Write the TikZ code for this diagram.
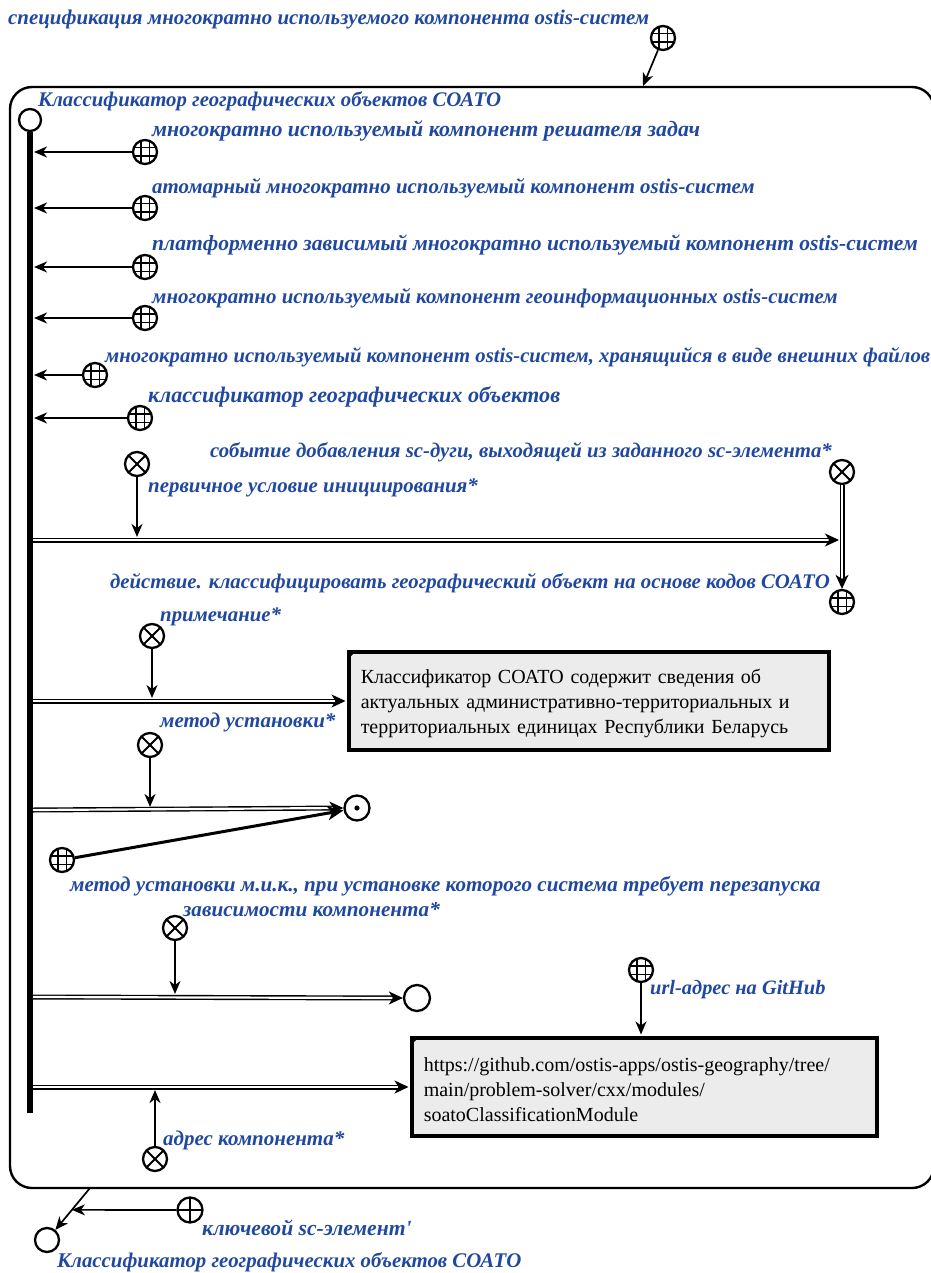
\documentclass[tikz,border=0pt]{standalone}
\usepackage{fontspec}
\setmainfont{Liberation Serif}
\usetikzlibrary{arrows.meta,calc}
\definecolor{labblue}{RGB}{32,72,160}
\definecolor{boxgray}{RGB}{236,236,236}
\tikzset{
  lab/.style={font=\bfseries\itshape\fontsize{#1}{24}\selectfont, text=labblue, inner sep=0pt},
  lab/.default=21,
  ring/.style={circle, draw, line width=2.3pt, fill=white, inner sep=0pt, minimum size=#1},
  globe/.style={ring=24pt, path picture={
      \foreach \d in {-4.2,4.2}{
        \draw[black, line width=1.4pt] ($(path picture bounding box.center)+(\d pt,-14pt)$) -- ++(0pt,28pt);
        \draw[black, line width=1.4pt] ($(path picture bounding box.center)+(-14pt,\d pt)$) -- ++(28pt,0pt);
      }}},
  xnode/.style={ring=24pt, path picture={
      \draw[black, line width=2pt] ($(path picture bounding box.center)+(-12pt,-12pt)$) -- ++(24pt,24pt);
      \draw[black, line width=2pt] ($(path picture bounding box.center)+(-12pt,12pt)$) -- ++(24pt,-24pt);
      }},
  pnode/.style={ring=25pt, path picture={
      \draw[black, line width=2pt] ($(path picture bounding box.center)+(-14pt,0pt)$) -- ++(28pt,0pt);
      \draw[black, line width=2pt] ($(path picture bounding box.center)+(0pt,-14pt)$) -- ++(0pt,28pt);
      }},
  dotnode/.style={ring=25pt, path picture={
      \fill[black] (path picture bounding box.center) circle[radius=2.6pt];
      }},
  frame/.style={line width=2.4pt, rounded corners=22pt},
  bar/.style={line width=6.5pt},
  arr/.style={line width=1.7pt, -{Stealth[length=13pt,width=11pt,inset=4pt]}},
  thickarr/.style={line width=3pt, -{Stealth[length=16pt,width=14pt,inset=4.5pt]}},
  dblline/.style={double=white, double distance=2.2pt, line width=1.4pt},
  dbltip/.style={line width=1.4pt, -{Stealth[length=14pt,width=13pt,inset=4pt]}},
  notebox/.style={draw, line width=3.5pt, fill=boxgray, text width=#1, align=left,
      inner xsep=12pt, minimum height=98pt, font=\fontsize{20}{25}\selectfont},
}
\newcommand\scDblArc[2]{%
  \draw[dblline] (#1) -- ($(#2)!10pt!(#1)$);
  \draw[dbltip] ($(#2)!10pt!(#1)$) -- (#2);}
\begin{document}
\begin{tikzpicture}[x=1pt,y=-1pt]
\useasboundingbox (0,0) rectangle (930,1273);
\draw[frame] (10,87) rectangle (934,1188);

% specification
\node[lab=20.9, anchor=west] (tspec) at (8,20) {спецификация многократно используемого компонента ostis-систем};
\node[globe] (gspec) at (663,38) {};
\coordinate (fspec) at (643,86);
\draw[arr] (gspec) -- (fspec);

% main node and bar
\node[ring=22pt] (main) at (30,120) {};
\node[lab=20.8, anchor=west] (tmain) at (38,101) {Классификатор географических объектов СОАТО};
\coordinate (barend) at (30,1113);
\draw[bar] (main.south) -- (barend);

% classes
\node[globe] (g1) at (145,152) {};
\coordinate (b1) at (34,152);
\draw[arr] (g1) -- (b1);
\node[lab=21.9, anchor=west] (t1) at (152,131) {многократно используемый компонент решателя задач};

\node[globe] (g2) at (145,208) {};
\coordinate (b2) at (34,208);
\draw[arr] (g2) -- (b2);
\node[lab=20.9, anchor=west] (t2) at (152,188) {атомарный многократно используемый компонент ostis-систем};

\node[globe] (g3) at (145,267) {};
\coordinate (b3) at (34,267);
\draw[arr] (g3) -- (b3);
\node[lab=21.6, anchor=west] (t3) at (152,245) {платформенно зависимый многократно используемый компонент ostis-систем};

\node[globe] (g4) at (145,318) {};
\coordinate (b4) at (34,318);
\draw[arr] (g4) -- (b4);
\node[lab=20.9, anchor=west] (t4) at (152,298) {многократно используемый компонент геоинформационных ostis-систем};

\node[globe] (g5) at (95,375) {};
\coordinate (b5) at (34,375);
\draw[arr] (g5) -- (b5);
\node[lab=20.7, anchor=west] (t5) at (105,357) {многократно используемый компонент ostis-систем, хранящийся в виде внешних файлов};

\node[globe] (g6) at (140,418) {};
\coordinate (b6) at (34,418);
\draw[arr] (g6) -- (b6);
\node[lab=22.2, anchor=west] (t6) at (148,397) {классификатор географических объектов};

% event
\node[xnode] (x1) at (137,464) {};
\node[lab=20.9, anchor=west] (tprim) at (148,488) {первичное условие инициирования*};
\coordinate (d1s) at (33,540);
\coordinate (d1e) at (839,540);
\scDblArc{d1s}{d1e}
\coordinate (x1e) at (137,537);
\draw[arr] (x1) -- (x1e);
\node[xnode] (x2) at (842,472) {};
\node[lab=20.8, anchor=east] (tev) at (832,452) {событие добавления sc-дуги, выходящей из заданного sc-элемента*};
\node[globe] (gact) at (842,602) {};
\scDblArc{x2.south}{gact.north}
\node[lab=20.8, anchor=east] (tact) at (830,583) {действие. классифицировать географический объект на основе кодов СОАТО};

% note
\node[xnode] (x3) at (152,636) {};
\node[lab=20.8, anchor=west] (tnote) at (160,617) {примечание*};
\node[notebox=456pt, anchor=north west] (box1) at (347,650) {\rule{0pt}{20pt}Классификатор СОАТО содержит сведения об\\актуальных административно-территориальных и\\территориальных единицах Республики Беларусь};
\fill (box1.north west) -- ++(10,0) -- ++(-10,10) -- cycle;
\coordinate (d2s) at (33,701);
\path (d2s -| box1.west) ++(-1.5,0) coordinate (d2e);
\scDblArc{d2s}{d2e}
\coordinate (x3e) at (152,698);
\draw[arr] (x3) -- (x3e);

% installation method
\node[lab=21, anchor=west] (tmeth) at (160,722) {метод установки*};
\node[xnode] (x4) at (150,745) {};
\node[dotnode] (m1) at (357,808) {};
\coordinate (d3s) at (33,810);
\scDblArc{d3s}{m1.west}
\coordinate (x4e) at (150,807);
\draw[arr] (x4) -- (x4e);
\node[globe] (gmik) at (62,860) {};
\draw[thickarr] (gmik) -- (m1);
\node[lab=21.1, anchor=west] (tmik) at (70,886) {метод установки м.и.к., при установке которого система требует перезапуска};

% dependencies
\node[lab=21.2, anchor=west] (tdep) at (183,910) {зависимости компонента*};
\node[xnode] (x5) at (175,928) {};
\node[ring=26pt] (dep) at (417,998) {};
\coordinate (d4s) at (33,997);
\scDblArc{d4s}{dep.west}
\coordinate (x5e) at (175,994);
\draw[arr] (x5) -- (x5e);

% github
\node[globe] (gurl) at (641,970) {};
\node[lab=20.4, anchor=west] (turl) at (650,990) {url-адрес на GitHub};
\node[notebox=441pt, anchor=north west] (box2) at (410,1036) {\rule{0pt}{20pt}https://github.com/ostis-apps/ostis-geography/tree/\\main/problem-solver/cxx/modules/\\soatoClassificationModule};
\fill (box2.north west) -- ++(10,0) -- ++(-10,10) -- cycle;
\path (gurl |- box2.north) ++(0,-1.5) coordinate (urle);
\draw[arr] (gurl) -- (urle);
\coordinate (d5s) at (33,1087);
\path (d5s -| box2.west) ++(-1.5,0) coordinate (d5e);
\scDblArc{d5s}{d5e}
\node[xnode] (x6) at (155,1159) {};
\coordinate (x6e) at (155,1090);
\draw[arr] (x6) -- (x6e);
\node[lab=21, anchor=west] (taddr) at (163,1140) {адрес компонента*};

% bottom
\coordinate (fb) at (90,1188);
\node[ring=24pt] (sys2) at (47,1240) {};
\draw[arr] (fb) -- (sys2);
\node[pnode] (key) at (190,1210) {};
\coordinate (keyt) at ($(fb)!0.42!(sys2)$);
\draw[arr] (key) -- (keyt);
\node[lab=21.6, anchor=west] (tkey) at (202,1228) {ключевой sc-элемент\textquotesingle};
\node[lab=20.85, anchor=west] (tmain2) at (57,1262) {Классификатор географических объектов СОАТО};
\end{tikzpicture}
\end{document}
